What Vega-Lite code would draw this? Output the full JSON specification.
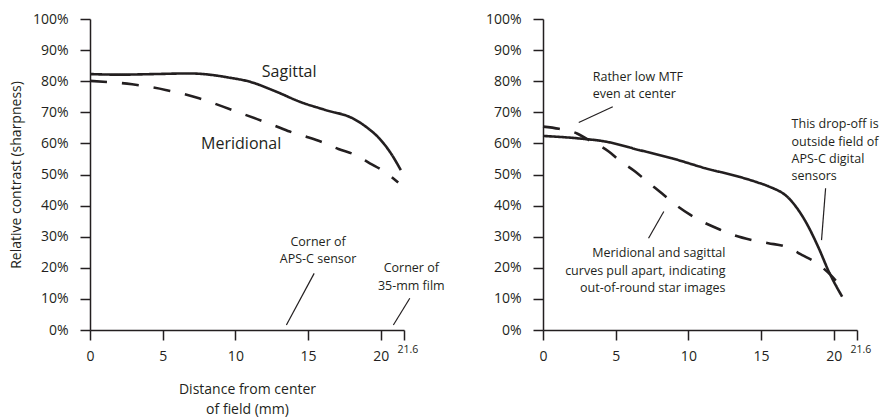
{
  "$schema": "https://vega.github.io/schema/vega-lite/v6.json",
  "padding": {"left": 9, "top": 12, "right": 5, "bottom": 5},
  "background": "white",
  "spacing": 139,
  "bounds": "flush",
  "config": {
    "view": {"stroke": null},
    "font": "Open Sans",
    "axis": {
      "grid": false,
      "domainColor": "#231f20",
      "domainWidth": 1.5,
      "tickColor": "#231f20",
      "tickWidth": 1.5,
      "tickSize": 10,
      "labelColor": "#231f20",
      "labelFont": "Open Sans",
      "labelFontSize": 14,
      "titleColor": "#231f20",
      "titleFont": "Open Sans",
      "titleFontSize": 14,
      "titleFontWeight": "normal"
    }
  },
  "datasets": {
    "leftCurves": [
      {"x": 0, "y": 0.823, "curve": "Sagittal"},
      {"x": 2, "y": 0.821, "curve": "Sagittal"},
      {"x": 4.5, "y": 0.823, "curve": "Sagittal"},
      {"x": 6.8, "y": 0.825, "curve": "Sagittal"},
      {"x": 8.4, "y": 0.82, "curve": "Sagittal"},
      {"x": 9.5, "y": 0.812, "curve": "Sagittal"},
      {"x": 10.94, "y": 0.799, "curve": "Sagittal"},
      {"x": 12.78, "y": 0.767, "curve": "Sagittal"},
      {"x": 14.43, "y": 0.734, "curve": "Sagittal"},
      {"x": 16.22, "y": 0.707, "curve": "Sagittal"},
      {"x": 18.05, "y": 0.681, "curve": "Sagittal"},
      {"x": 18.97, "y": 0.654, "curve": "Sagittal"},
      {"x": 19.9, "y": 0.616, "curve": "Sagittal"},
      {"x": 20.7, "y": 0.568, "curve": "Sagittal"},
      {"x": 21.38, "y": 0.514, "curve": "Sagittal"},
      {"x": 0, "y": 0.801, "curve": "Meridional"},
      {"x": 2.9, "y": 0.79, "curve": "Meridional"},
      {"x": 5.2, "y": 0.772, "curve": "Meridional"},
      {"x": 7.5, "y": 0.745, "curve": "Meridional"},
      {"x": 9.8, "y": 0.707, "curve": "Meridional"},
      {"x": 11.5, "y": 0.678, "curve": "Meridional"},
      {"x": 12.6, "y": 0.659, "curve": "Meridional"},
      {"x": 13.74, "y": 0.638, "curve": "Meridional"},
      {"x": 14.84, "y": 0.622, "curve": "Meridional"},
      {"x": 15.98, "y": 0.604, "curve": "Meridional"},
      {"x": 17.09, "y": 0.582, "curve": "Meridional"},
      {"x": 18.24, "y": 0.563, "curve": "Meridional"},
      {"x": 19.25, "y": 0.536, "curve": "Meridional"},
      {"x": 20.25, "y": 0.509, "curve": "Meridional"},
      {"x": 21.2, "y": 0.474, "curve": "Meridional"}
    ],
    "rightCurves": [
      {"x": 0, "y": 0.624, "curve": "Sagittal"},
      {"x": 2.46, "y": 0.616, "curve": "Sagittal"},
      {"x": 4.29, "y": 0.606, "curve": "Sagittal"},
      {"x": 6.59, "y": 0.579, "curve": "Sagittal"},
      {"x": 8.88, "y": 0.552, "curve": "Sagittal"},
      {"x": 11.18, "y": 0.52, "curve": "Sagittal"},
      {"x": 13.47, "y": 0.493, "curve": "Sagittal"},
      {"x": 14.73, "y": 0.475, "curve": "Sagittal"},
      {"x": 15.51, "y": 0.462, "curve": "Sagittal"},
      {"x": 16.9, "y": 0.424, "curve": "Sagittal"},
      {"x": 18.06, "y": 0.349, "curve": "Sagittal"},
      {"x": 18.97, "y": 0.263, "curve": "Sagittal"},
      {"x": 19.66, "y": 0.188, "curve": "Sagittal"},
      {"x": 20.58, "y": 0.107, "curve": "Sagittal"},
      {"x": 0, "y": 0.654, "curve": "Meridional"},
      {"x": 1.1, "y": 0.647, "curve": "Meridional"},
      {"x": 2.34, "y": 0.632, "curve": "Meridional"},
      {"x": 3.15, "y": 0.611, "curve": "Meridional"},
      {"x": 4.52, "y": 0.574, "curve": "Meridional"},
      {"x": 5.21, "y": 0.547, "curve": "Meridional"},
      {"x": 6.36, "y": 0.509, "curve": "Meridional"},
      {"x": 7.05, "y": 0.482, "curve": "Meridional"},
      {"x": 8.31, "y": 0.434, "curve": "Meridional"},
      {"x": 9.0, "y": 0.407, "curve": "Meridional"},
      {"x": 10.14, "y": 0.37, "curve": "Meridional"},
      {"x": 10.94, "y": 0.349, "curve": "Meridional"},
      {"x": 12.21, "y": 0.322, "curve": "Meridional"},
      {"x": 13.12, "y": 0.305, "curve": "Meridional"},
      {"x": 14.38, "y": 0.289, "curve": "Meridional"},
      {"x": 15.5, "y": 0.279, "curve": "Meridional"},
      {"x": 16.68, "y": 0.268, "curve": "Meridional"},
      {"x": 17.83, "y": 0.241, "curve": "Meridional"},
      {"x": 18.86, "y": 0.214, "curve": "Meridional"},
      {"x": 19.78, "y": 0.177, "curve": "Meridional"},
      {"x": 20.58, "y": 0.134, "curve": "Meridional"}
    ],
    "leftPointers": [
      {"x": 15.42, "y": 0.182, "x2": 13.51, "y2": 0.016},
      {"x": 22.0, "y": 0.102, "x2": 20.87, "y2": 0.016}
    ],
    "rightPointers": [
      {"x": 4.8, "y": 0.718, "x2": 2.46, "y2": 0.667},
      {"x": 19.44, "y": 0.456, "x2": 19.16, "y2": 0.289},
      {"x": 8.31, "y": 0.381, "x2": 7.26, "y2": 0.295}
    ],
    "leftCurveLabels": [
      {"x": 13.7, "y": 0.831, "label": "Sagittal"},
      {"x": 10.4, "y": 0.598, "label": "Meridional"}
    ],
    "leftNotes": [
      {"x": 15.69, "y": 0.284, "label": "Corner of\nAPS-C sensor"},
      {"x": 22.1, "y": 0.198, "label": "Corner of\n35-mm film"}
    ],
    "rightNotesLeft": [
      {"x": 3.42, "y": 0.815, "label": "Rather low MTF\neven at center"},
      {"x": 17.1, "y": 0.661, "label": "This drop-off is\noutside field of\nAPS-C digital\nsensors"}
    ],
    "rightNotesRight": [
      {"x": 12.55, "y": 0.247, "label": "Meridional and sagittal\ncurves pull apart, indicating\nout-of-round star images"}
    ]
  },
  "hconcat": [
    {
      "width": 314,
      "height": 311,
      "encoding": {
        "x": {
          "field": "x", "type": "quantitative",
          "scale": {"domain": [0, 21.6], "nice": false, "zero": false},
          "axis": {
            "values": [0, 5, 10, 15, 20, 21.6],
            "format": ".3~g",
            "labelOverlap": false,
            "labelBound": false,
            "labelFlush": false,
            "labelPadding": {"condition": {"test": "datum.value == 21.6", "value": 4}, "value": 9},
            "labelFontSize": {"condition": {"test": "datum.value == 21.6", "value": 10.5}, "value": 14},
            "labelAlign": {"condition": {"test": "datum.value == 21.6", "value": "left"}, "value": "center"},
            "labelOffset": {"condition": {"test": "datum.value == 21.6", "value": -7}, "value": 0},
            "title": ["Distance from center", "of field (mm)"],
            "titlePadding": 19,
            "titleLineHeight": 20
          }
        },
        "y": {
          "field": "y", "type": "quantitative",
          "scale": {"domain": [0, 1], "nice": false},
          "axis": {
            "values": [0, 0.1, 0.2, 0.3, 0.4, 0.5, 0.6, 0.7, 0.8, 0.9, 1],
            "tickCount": 11,
            "format": ".0%",
            "labelOverlap": false,
            "labelPadding": 12,
            "title": "Relative contrast (sharpness)",
            "titlePadding": 9
          }
        }
      },
      "layer": [
        {
          "data": {"name": "leftCurves"},
          "mark": {"type": "line", "color": "#231f20", "strokeWidth": 2.6, "interpolate": "monotone"},
          "encoding": {
            "detail": {"field": "curve"},
            "strokeDash": {
              "field": "curve", "type": "nominal",
              "scale": {"domain": ["Sagittal", "Meridional"], "range": [[1, 0], [17, 15]]},
              "legend": null
            }
          }
        },
        {
          "data": {"name": "leftPointers"},
          "mark": {"type": "rule", "color": "#231f20", "strokeWidth": 1.2},
          "encoding": {
            "x2": {"field": "x2"},
            "y2": {"field": "y2"}
          }
        },
        {
          "data": {"name": "leftCurveLabels"},
          "mark": {"type": "text", "font": "Open Sans", "fontSize": 16, "color": "#231f20", "align": "center", "baseline": "middle"},
          "encoding": {
            "text": {"field": "label"}
          }
        },
        {
          "data": {"name": "leftNotes"},
          "mark": {"type": "text", "font": "Open Sans", "fontSize": 12.5, "color": "#231f20", "align": "center", "baseline": "middle", "lineBreak": "\n", "lineHeight": 17.2},
          "encoding": {
            "text": {"field": "label"}
          }
        }
      ]
    },
    {
      "width": 314,
      "height": 311,
      "encoding": {
        "x": {
          "field": "x", "type": "quantitative",
          "scale": {"domain": [0, 21.6], "nice": false, "zero": false},
          "axis": {
            "values": [0, 5, 10, 15, 20, 21.6],
            "format": ".3~g",
            "labelOverlap": false,
            "labelBound": false,
            "labelFlush": false,
            "labelPadding": {"condition": {"test": "datum.value == 21.6", "value": 4}, "value": 9},
            "labelFontSize": {"condition": {"test": "datum.value == 21.6", "value": 10.5}, "value": 14},
            "labelAlign": {"condition": {"test": "datum.value == 21.6", "value": "left"}, "value": "center"},
            "labelOffset": {"condition": {"test": "datum.value == 21.6", "value": -7}, "value": 0},
            "title": null
          }
        },
        "y": {
          "field": "y", "type": "quantitative",
          "scale": {"domain": [0, 1], "nice": false},
          "axis": {
            "values": [0, 0.1, 0.2, 0.3, 0.4, 0.5, 0.6, 0.7, 0.8, 0.9, 1],
            "tickCount": 11,
            "format": ".0%",
            "labelOverlap": false,
            "labelPadding": 12,
            "title": null
          }
        }
      },
      "layer": [
        {
          "data": {"name": "rightCurves"},
          "mark": {"type": "line", "color": "#231f20", "strokeWidth": 2.6, "interpolate": "monotone"},
          "encoding": {
            "detail": {"field": "curve"},
            "strokeDash": {
              "field": "curve", "type": "nominal",
              "scale": {"domain": ["Sagittal", "Meridional"], "range": [[1, 0], [17, 15]]},
              "legend": null
            }
          }
        },
        {
          "data": {"name": "rightPointers"},
          "mark": {"type": "rule", "color": "#231f20", "strokeWidth": 1.2},
          "encoding": {
            "x2": {"field": "x2"},
            "y2": {"field": "y2"}
          }
        },
        {
          "data": {"name": "rightNotesLeft"},
          "mark": {"type": "text", "font": "Open Sans", "fontSize": 12.5, "color": "#231f20", "align": "left", "baseline": "middle", "lineBreak": "\n", "lineHeight": 17.3},
          "encoding": {
            "text": {"field": "label"}
          }
        },
        {
          "data": {"name": "rightNotesRight"},
          "mark": {"type": "text", "font": "Open Sans", "fontSize": 12.5, "color": "#231f20", "align": "right", "baseline": "middle", "lineBreak": "\n", "lineHeight": 17.5},
          "encoding": {
            "text": {"field": "label"}
          }
        }
      ]
    }
  ]
}
